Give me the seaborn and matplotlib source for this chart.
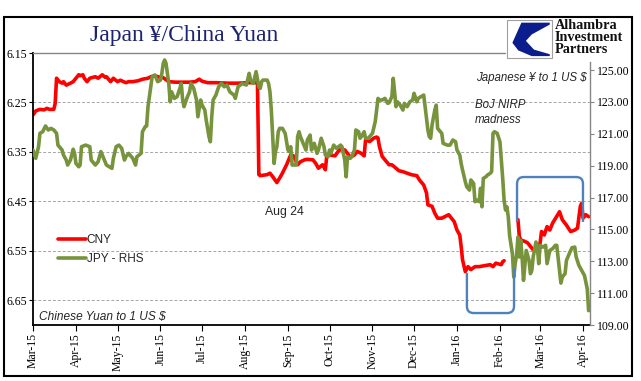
import numpy as np
import pandas as pd
import matplotlib
matplotlib.use('Agg')
import matplotlib.pyplot as plt
import matplotlib.dates as mdates
import matplotlib.patches as mpatches
from matplotlib.path import Path
from matplotlib.lines import Line2D
from matplotlib.ticker import FormatStrFormatter
import seaborn as sns

# CNY per USD (left axis, inverted); NaN = Chinese New Year gap
cny_dates = [
    '2015-03-01', '2015-03-03', '2015-03-06', '2015-03-09', '2015-03-11', '2015-03-13',
    '2015-03-16', '2015-03-17', '2015-03-18', '2015-03-20', '2015-03-22', '2015-03-23',
    '2015-03-25', '2015-03-28', '2015-03-30', '2015-04-01', '2015-04-03', '2015-04-04',
    '2015-04-06', '2015-04-07', '2015-04-09', '2015-04-11', '2015-04-15', '2015-04-17',
    '2015-04-20', '2015-04-22', '2015-04-23', '2015-04-26', '2015-04-28', '2015-05-01',
    '2015-05-03', '2015-05-07', '2015-05-09', '2015-05-12', '2015-05-16', '2015-05-19',
    '2015-05-23', '2015-05-25', '2015-05-28', '2015-05-30', '2015-06-03', '2015-06-07',
    '2015-06-12', '2015-06-17', '2015-06-22', '2015-06-26', '2015-06-29', '2015-07-01',
    '2015-07-05', '2015-07-11', '2015-07-20', '2015-07-27', '2015-08-04', '2015-08-10',
    '2015-08-11', '2015-08-12', '2015-08-17', '2015-08-19', '2015-08-21', '2015-08-24',
    '2015-08-26', '2015-08-28', '2015-08-31', '2015-09-03', '2015-09-05', '2015-09-08',
    '2015-09-10', '2015-09-13', '2015-09-15', '2015-09-19', '2015-09-21', '2015-09-23',
    '2015-09-26', '2015-09-28', '2015-09-29', '2015-10-01', '2015-10-05', '2015-10-08',
    '2015-10-12', '2015-10-14', '2015-10-16', '2015-10-19', '2015-10-21', '2015-10-24',
    '2015-10-26', '2015-10-27', '2015-10-30', '2015-11-02', '2015-11-04', '2015-11-05',
    '2015-11-06', '2015-11-08', '2015-11-10', '2015-11-13', '2015-11-15', '2015-11-18',
    '2015-11-20', '2015-11-23', '2015-11-25', '2015-11-29', '2015-12-03', '2015-12-05',
    '2015-12-08', '2015-12-10', '2015-12-11', '2015-12-14', '2015-12-16', '2015-12-18',
    '2015-12-21', '2015-12-26', '2015-12-28', '2015-12-30', '2016-01-01', '2016-01-03',
    '2016-01-04', '2016-01-05', '2016-01-07', '2016-01-09', '2016-01-11', '2016-01-14',
    '2016-01-17', '2016-01-21', '2016-01-25', '2016-01-27', '2016-01-29', '2016-02-02',
    '2016-02-03', '2016-02-04', '2016-02-09', '2016-02-14', '2016-02-15', '2016-02-16',
    '2016-02-19', '2016-02-21', '2016-02-23', '2016-02-25', '2016-02-28', '2016-03-01',
    '2016-03-02', '2016-03-04', '2016-03-06', '2016-03-08', '2016-03-10', '2016-03-15',
    '2016-03-17', '2016-03-20', '2016-03-23', '2016-03-26', '2016-03-28', '2016-03-30',
    '2016-03-31', '2016-04-01', '2016-04-03', '2016-04-05',
]
cny_values = [
    6.275, 6.267, 6.264, 6.265, 6.262, 6.264,
    6.264, 6.252, 6.201, 6.208, 6.211, 6.208,
    6.215, 6.211, 6.208, 6.201, 6.194, 6.196,
    6.194, 6.201, 6.208, 6.201, 6.198, 6.201,
    6.194, 6.199, 6.198, 6.208, 6.201, 6.208,
    6.205, 6.210, 6.208, 6.208, 6.206, 6.203,
    6.201, 6.198, 6.196, 6.198, 6.200, 6.208,
    6.209, 6.209, 6.209, 6.208, 6.203, 6.207,
    6.210, 6.210, 6.211, 6.211, 6.210, 6.210,
    6.396, 6.398, 6.396, 6.393, 6.400, 6.412,
    6.403, 6.393, 6.376, 6.356, 6.358, 6.376,
    6.370, 6.366, 6.365, 6.366, 6.373, 6.383,
    6.376, 6.386, 6.359, 6.356, 6.358, 6.346,
    6.346, 6.353, 6.361, 6.356, 6.349, 6.353,
    6.358, 6.326, 6.329, 6.322, 6.320, 6.322,
    6.339, 6.359, 6.366, 6.376, 6.376, 6.383,
    6.388, 6.390, 6.392, 6.396, 6.398, 6.407,
    6.417, 6.433, 6.457, 6.460, 6.474, 6.484,
    6.484, 6.477, 6.484, 6.491, 6.508, 6.518,
    6.541, 6.568, 6.592, 6.582, 6.588, 6.582,
    6.582, 6.580, 6.578, 6.582, 6.575, 6.578,
    6.572, 6.570, np.nan, 6.487, 6.521, 6.528,
    6.531, 6.534, 6.541, 6.548, 6.551, 6.534,
    6.511, 6.518, 6.501, 6.508, 6.494, 6.471,
    6.487, 6.498, 6.511, 6.508, 6.504, 6.460,
    6.454, 6.484, 6.477, 6.481,
]

# JPY per USD (right axis)
jpy_dates = [
    '2015-03-01', '2015-03-03', '2015-03-05', '2015-03-06', '2015-03-08', '2015-03-10',
    '2015-03-12', '2015-03-14', '2015-03-16', '2015-03-18', '2015-03-19', '2015-03-22',
    '2015-03-23', '2015-03-25', '2015-03-26', '2015-03-28', '2015-03-30', '2015-03-31',
    '2015-04-01', '2015-04-03', '2015-04-04', '2015-04-05', '2015-04-08', '2015-04-11',
    '2015-04-12', '2015-04-14', '2015-04-15', '2015-04-17', '2015-04-19', '2015-04-21',
    '2015-04-23', '2015-04-25', '2015-04-27', '2015-04-28', '2015-04-30', '2015-05-02',
    '2015-05-04', '2015-05-06', '2015-05-07', '2015-05-09', '2015-05-12', '2015-05-14',
    '2015-05-15', '2015-05-18', '2015-05-19', '2015-05-21', '2015-05-22', '2015-05-23',
    '2015-05-25', '2015-05-26', '2015-05-28', '2015-05-29', '2015-05-30', '2015-06-01',
    '2015-06-02', '2015-06-03', '2015-06-04', '2015-06-05', '2015-06-07', '2015-06-08',
    '2015-06-09', '2015-06-11', '2015-06-13', '2015-06-15', '2015-06-16', '2015-06-17',
    '2015-06-18', '2015-06-20', '2015-06-22', '2015-06-23', '2015-06-25', '2015-06-27',
    '2015-06-28', '2015-06-30', '2015-07-01', '2015-07-03', '2015-07-04', '2015-07-06',
    '2015-07-07', '2015-07-08', '2015-07-09', '2015-07-11', '2015-07-13', '2015-07-15',
    '2015-07-17', '2015-07-19', '2015-07-21', '2015-07-24', '2015-07-25', '2015-07-27',
    '2015-07-30', '2015-08-02', '2015-08-04', '2015-08-05', '2015-08-07', '2015-08-09',
    '2015-08-11', '2015-08-12', '2015-08-13', '2015-08-14', '2015-08-17', '2015-08-18',
    '2015-08-19', '2015-08-20', '2015-08-21', '2015-08-22', '2015-08-23', '2015-08-24',
    '2015-08-25', '2015-08-26', '2015-08-28', '2015-08-30', '2015-09-01', '2015-09-02',
    '2015-09-03', '2015-09-04', '2015-09-07', '2015-09-08', '2015-09-09', '2015-09-10',
    '2015-09-13', '2015-09-14', '2015-09-15', '2015-09-17', '2015-09-18', '2015-09-20',
    '2015-09-22', '2015-09-23', '2015-09-25', '2015-09-27', '2015-09-28', '2015-09-30',
    '2015-10-01', '2015-10-02', '2015-10-04', '2015-10-06', '2015-10-09', '2015-10-10',
    '2015-10-12', '2015-10-13', '2015-10-14', '2015-10-16', '2015-10-17', '2015-10-19',
    '2015-10-20', '2015-10-22', '2015-10-23', '2015-10-24', '2015-10-26', '2015-10-27',
    '2015-10-29', '2015-11-01', '2015-11-03', '2015-11-05', '2015-11-06', '2015-11-08',
    '2015-11-10', '2015-11-12', '2015-11-13', '2015-11-15', '2015-11-16', '2015-11-18',
    '2015-11-19', '2015-11-21', '2015-11-23', '2015-11-24', '2015-11-26', '2015-11-28',
    '2015-11-30', '2015-12-01', '2015-12-03', '2015-12-04', '2015-12-06', '2015-12-08',
    '2015-12-09', '2015-12-11', '2015-12-12', '2015-12-13', '2015-12-14', '2015-12-16',
    '2015-12-17', '2015-12-18', '2015-12-19', '2015-12-21', '2015-12-22', '2015-12-25',
    '2015-12-27', '2015-12-29', '2015-12-31', '2016-01-01', '2016-01-03', '2016-01-04',
    '2016-01-05', '2016-01-07', '2016-01-08', '2016-01-10', '2016-01-11', '2016-01-13',
    '2016-01-14', '2016-01-15', '2016-01-17', '2016-01-18', '2016-01-19', '2016-01-20',
    '2016-01-22', '2016-01-23', '2016-01-25', '2016-01-26', '2016-01-27', '2016-01-28',
    '2016-01-30', '2016-02-01', '2016-02-02', '2016-02-03', '2016-02-04', '2016-02-05',
    '2016-02-06', '2016-02-07', '2016-02-08', '2016-02-10', '2016-02-11', '2016-02-12',
    '2016-02-13', '2016-02-14', '2016-02-15', '2016-02-16', '2016-02-17', '2016-02-18',
    '2016-02-19', '2016-02-20', '2016-02-22', '2016-02-23', '2016-02-24', '2016-02-25',
    '2016-02-27', '2016-02-28', '2016-02-29', '2016-03-01', '2016-03-03', '2016-03-05',
    '2016-03-06', '2016-03-08', '2016-03-10', '2016-03-12', '2016-03-13', '2016-03-15',
    '2016-03-16', '2016-03-17', '2016-03-19', '2016-03-20', '2016-03-22', '2016-03-24',
    '2016-03-26', '2016-03-27', '2016-03-29', '2016-03-31', '2016-04-02', '2016-04-04',
    '2016-04-05',
]
jpy_values = [
    119.98, 119.46, 120.19, 121.03, 121.13, 121.49,
    121.24, 121.34, 121.24, 121.03, 120.29, 119.98,
    119.67, 119.35, 119.04, 119.35, 120.03, 119.77,
    119.14, 118.93, 119.04, 120.19, 120.29, 120.19,
    119.35, 119.14, 119.04, 119.25, 119.88, 119.46,
    119.04, 118.93, 118.83, 119.46, 120.19, 120.29,
    120.09, 119.35, 119.56, 119.77, 119.46, 119.04,
    119.56, 119.77, 121.13, 121.45, 121.49, 122.70,
    123.95, 124.58, 124.69, 124.48, 124.27, 124.37,
    124.79, 125.42, 125.63, 125.42, 124.16, 123.01,
    123.64, 123.22, 123.33, 123.85, 124.16, 123.12,
    122.70, 123.22, 123.64, 124.16, 123.85, 123.12,
    122.07, 123.12, 122.80, 122.49, 121.86, 120.82,
    120.50, 122.07, 123.12, 123.43, 123.95, 124.16,
    123.95, 124.06, 123.64, 123.43, 123.22, 123.95,
    124.16, 124.06, 124.79, 124.37, 124.16, 124.90,
    123.95, 123.85, 124.27, 124.37, 124.37, 124.16,
    123.64, 122.49, 120.82, 119.14, 119.88, 120.19,
    121.13, 121.34, 121.34, 121.03, 119.98, 119.88,
    120.19, 119.04, 119.04, 120.82, 121.13, 120.82,
    120.19, 119.98, 120.61, 120.92, 119.98, 120.40,
    119.77, 119.98, 120.72, 120.19, 119.67, 119.56,
    119.98, 119.77, 120.29, 120.09, 120.29, 120.19,
    119.35, 118.30, 119.56, 119.46, 119.56, 119.98,
    121.24, 121.13, 120.72, 120.82, 121.13, 120.72,
    120.72, 121.03, 121.76, 123.22, 123.12, 123.12,
    123.22, 122.91, 122.95, 123.33, 124.48, 122.70,
    123.01, 122.80, 122.49, 122.91, 122.70, 123.01,
    123.12, 123.54, 123.01, 123.22, 123.33, 123.43,
    122.70, 121.24, 120.82, 120.72, 121.55, 122.49,
    122.80, 121.34, 121.24, 121.03, 120.40, 120.29,
    120.29, 120.61, 120.50, 119.98, 119.67, 119.14,
    118.73, 118.00, 117.68, 117.47, 118.10, 117.89,
    116.74, 116.84, 116.74, 117.58, 116.42, 118.20,
    118.31, 118.41, 118.52, 118.62, 121.03, 121.13,
    121.03, 120.50, 119.35, 118.20, 116.84, 116.22,
    116.42, 115.80, 114.59, 113.47, 112.01, 112.85,
    113.37, 114.52, 113.27, 114.31, 113.27, 111.80,
    112.74, 113.68, 113.05, 112.22, 112.43, 113.27,
    114.21, 113.89, 112.85, 114.00, 113.89, 114.00,
    112.85, 113.68, 113.79, 114.00, 114.00, 112.43,
    111.63, 112.01, 112.22, 113.05, 113.47, 113.85,
    113.89, 113.27, 112.74, 112.43, 112.11, 111.28,
    109.90,
]

left_ticks = [6.15, 6.25, 6.35, 6.45, 6.55, 6.65]
right_ticks = [109, 111, 113, 115, 117, 119, 121, 123, 125]

RED = '#FF0000'
GREEN = '#77933C'
BLUE = '#4F81BD'
NAVY = '#1C2370'
GRID = '#A6A6A6'
SERIF = ['Liberation Serif', 'DejaVu Serif']
SANS = ['Liberation Sans', 'DejaVu Sans']

sns.set_style('ticks')
plt.rcParams['font.family'] = SERIF

fig = plt.figure(figsize=(6.41, 3.81), dpi=100, facecolor='white')
ax = fig.add_axes([33 / 641, 1 - 325 / 381, 557 / 641, 272 / 381])
ax2 = ax.twinx()

cny = pd.DataFrame({'date': pd.to_datetime(cny_dates), 'value': cny_values})
cny['segment'] = cny['value'].isna().cumsum()
cny = cny.dropna()
jpy = pd.DataFrame({'date': pd.to_datetime(jpy_dates), 'value': jpy_values})

for t in left_ticks[1:]:
    ax.axhline(t, color=GRID, lw=0.7, ls=(0, (3, 2)), zorder=0)

sns.lineplot(data=cny, x='date', y='value', units='segment', estimator=None,
             color=RED, lw=2.6, ax=ax, legend=False)
sns.lineplot(data=jpy, x='date', y='value', color=GREEN, lw=2.6, ax=ax2, legend=False)

ax.set_xlim(pd.Timestamp('2015-03-01'), pd.Timestamp('2016-04-06'))
ax.xaxis.set_major_locator(mdates.MonthLocator())
ax.xaxis.set_major_formatter(mdates.DateFormatter('%b-%y'))
ax.set_ylim(6.70, 6.15)
ax.set_yticks(left_ticks)
ax.yaxis.set_major_formatter(FormatStrFormatter('%.2f'))
ax2.set_ylim(109, 126.07)
ax2.set_yticks(right_ticks)
ax2.yaxis.set_major_formatter(FormatStrFormatter('%.2f'))
for a in (ax, ax2):
    a.set_xlabel('')
    a.set_ylabel('')

ax.tick_params(axis='x', direction='out', length=4, width=0.8, labelsize=8.5,
               labelrotation=90, pad=2, colors='black')
ax.tick_params(axis='y', direction='out', length=3, width=0.8, labelsize=8.5,
               pad=1, colors='black')
ax2.tick_params(axis='y', direction='out', length=3, width=0.8, labelsize=8.5,
                pad=2, color='#868686', labelcolor='black')

ax.spines['top'].set_visible(False)
ax.spines['right'].set_visible(False)
ax.spines['left'].set_color('black')
ax.spines['left'].set_linewidth(1.3)
ax.spines['bottom'].set_color('black')
ax.spines['bottom'].set_linewidth(1.3)
for s in ('top', 'left', 'bottom'):
    ax2.spines[s].set_visible(False)
ax2.spines['right'].set_color('#868686')
ax2.spines['right'].set_linewidth(1.0)
ax2.spines['right'].set_bounds(109, 125.5)

# top rule stops at the logo
ax.plot([0, 0.847], [1, 1], transform=ax.transAxes, color='#868686', lw=1.0,
        clip_on=False, zorder=5)

# highlight brackets
def bracket(x0, x1, y0, y1, ybar, rx=0.012, ry=0.025):
    sgn = 1 if ybar < y0 else -1
    verts = [(x0, y0), (x0, ybar + sgn * ry), (x0, ybar), (x0 + rx, ybar),
             (x1 - rx, ybar), (x1, ybar), (x1, ybar + sgn * ry), (x1, y1)]
    codes = [Path.MOVETO, Path.LINETO, Path.CURVE3, Path.CURVE3,
             Path.LINETO, Path.CURVE3, Path.CURVE3, Path.LINETO]
    patch = mpatches.PathPatch(Path(verts, codes), fill=False, edgecolor=BLUE,
                               lw=1.7, transform=ax2.transAxes, clip_on=False,
                               zorder=10)
    ax2.add_patch(patch)

bracket(0.779, 0.8636, 0.191, 0.210, 0.044)
bracket(0.869, 0.9874, 0.379, 0.379, 0.544)

# annotations
ax2.text(0.9946, 0.907, 'Japanese ¥ to 1 US $', transform=ax2.transAxes,
         ha='right', va='center', fontsize=8.3, style='italic', family=SANS)
ax2.text(0.7935, 0.78, 'BoJ NIRP\nmadness', transform=ax2.transAxes,
         ha='left', va='center', fontsize=8.3, style='italic', family=SANS,
         linespacing=1.35)
ax2.text(0.4506, 0.415, 'Aug 24', transform=ax2.transAxes, ha='center',
         va='center', fontsize=8.8, family=SANS)
ax2.text(0.0108, 0.029, 'Chinese Yuan to 1 US $', transform=ax2.transAxes,
         ha='left', va='center', fontsize=8.6, style='italic', family=SANS)

handles = [Line2D([], [], color=RED, lw=2.6), Line2D([], [], color=GREEN, lw=2.6)]
ax2.legend(handles, ['CNY', 'JPY - RHS'], loc='upper left',
           bbox_to_anchor=(0.035, 0.355), frameon=False, handlelength=2.3,
           handletextpad=0.1, labelspacing=0.55, borderpad=0,
           prop={'family': SANS, 'size': 8.5})

# title, logo, frame
fig.text(0.288, 0.892, 'Japan ¥/China Yuan', ha='center', va='baseline',
         fontsize=17, color=NAVY, family=SERIF)

bx, by, bw, bh = 507 / 641, 1 - 58 / 381, 45 / 641, 38 / 381
fig.patches.append(mpatches.Rectangle((bx, by), bw, bh, transform=fig.transFigure,
                                      facecolor='white', edgecolor='#A0A0A0', lw=0.8))
swoosh = [(0.32, 0.93), (0.95, 0.93), (0.95, 0.88), (0.55, 0.62), (0.42, 0.45),
          (0.60, 0.22), (0.95, 0.10), (0.95, 0.05), (0.55, 0.05), (0.25, 0.20),
          (0.12, 0.40), (0.32, 0.93)]
swoosh = [(bx + u * bw, by + v * bh) for u, v in swoosh]
fig.patches.append(mpatches.Polygon(swoosh, closed=True, transform=fig.transFigure,
                                    facecolor='#0B1C8C', edgecolor='none'))
fig.text(555 / 641, 1 - 19 / 381, 'Alhambra\nInvestment\nPartners', ha='left',
         va='top', fontsize=10.3, family=SERIF, linespacing=0.88, color='#111111',
         weight='bold')

fig.patches.append(mpatches.Rectangle((4 / 641, 1 - 376 / 381), 628 / 641, 359 / 381,
                                      transform=fig.transFigure, fill=False,
                                      edgecolor='black', lw=1.5))

fig.savefig('out.png', dpi=100, facecolor='white')
